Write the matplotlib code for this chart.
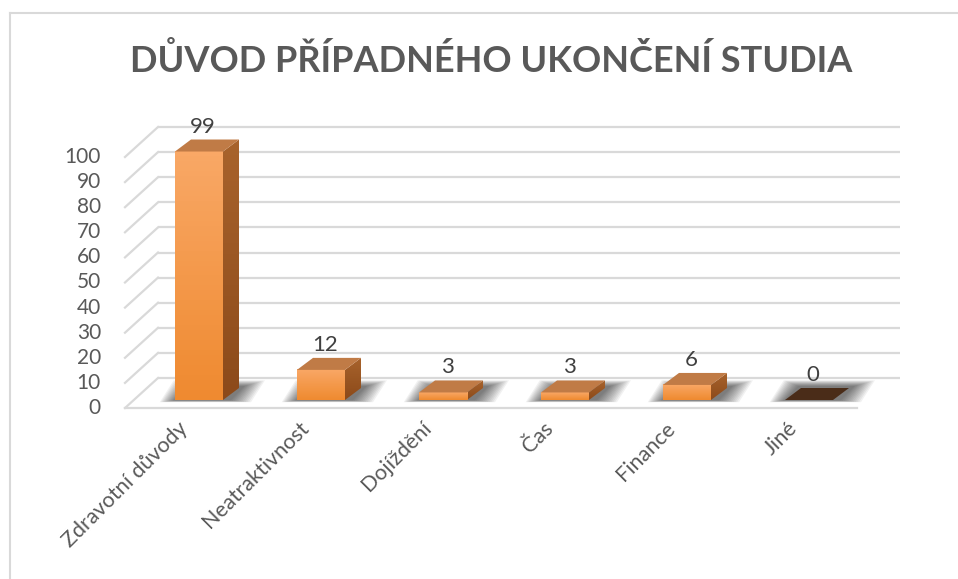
import numpy as np
import matplotlib
matplotlib.use("Agg")
import matplotlib.pyplot as plt
from matplotlib.patches import Polygon
from matplotlib.lines import Line2D
from matplotlib.colors import LinearSegmentedColormap

plt.rcParams['font.family'] = ['Lato', 'DejaVu Sans']

title = "DŮVOD PŘÍPADNÉHO UKONČENÍ STUDIA"
categories = ["Zdravotní důvody", "Neatraktivnost", "Dojíždění", "Čas", "Finance", "Jiné"]
values = [99, 12, 3, 3, 6, 0]
yticks = list(range(0, 101, 10))

# pixel layout -> data units (1 category = 122 px, 1 unit = 2.51 px)
PXC, PXV = 122.0, 2.51
X0, Y0 = 190.0, 408.0
def px(xp, yp):
    return (xp - X0) / PXC, (Y0 - yp) / PXV

W, H = 958, 579
fig = plt.figure(figsize=(W / 100, H / 100), dpi=100)
ax = fig.add_axes([0, 0, 1, 1])
x_lo, y_lo = px(0, H)
x_hi, y_hi = px(W, 0)
ax.set_xlim(x_lo, x_hi)
ax.set_ylim(y_lo, y_hi)
ax.axis('off')

# depth offsets
wall_dx, wall_dy = 33 / PXC, 30 / PXV
face_dx, face_dy = 9 / PXC, 8 / PXV
bar_dx, bar_dy = 16 / PXC, 12 / PXV
bar_w = 48 / PXC

grid_c = '#d9d9d9'
left_front = px(125, 0)[0]
right_back = px(900, 0)[0]
floor_right = px(857, 0)[0]
for t in yticks:
    ax.plot([left_front + wall_dx, right_back], [t + wall_dy, t + wall_dy],
            color=grid_c, lw=1.6, zorder=1, solid_capstyle='butt')
    ax.plot([left_front, left_front + wall_dx], [t, t + wall_dy],
            color=grid_c, lw=1.6, zorder=1)
ax.plot([left_front, floor_right], [0, 0], color=grid_c, lw=1.6, zorder=1)

for t in yticks:
    ax.text(px(101, 0)[0], t, str(t), ha='right', va='center',
            fontsize=15, color='#595959')

front_cmap = LinearSegmentedColormap.from_list('f', ['#f9a866', '#ef8a30'])
side_cmap = LinearSegmentedColormap.from_list('s', ['#a8632c', '#8c4a1a'])

for i, (cat, v) in enumerate(zip(categories, values)):
    xl = i - bar_w / 2 + face_dx
    xr = xl + bar_w
    yb = face_dy
    yt = yb + v
    # soft floor shadow
    for k in range(12):
        g = k * 1.3
        sx0 = xl - (1 + g) / PXC
        sx1 = xr + (8 + g * 1.4) / PXC
        sy0 = yb - (0.5 + g * 0.12) / PXV
        sy1 = yb + (14 + g * 0.4) / PXV
        sdx = 14 / PXC
        sh = Polygon([(sx0, sy0), (sx1, sy0), (sx1 + sdx, sy1), (sx0 + sdx, sy1)],
                     closed=True, facecolor='black', edgecolor='none',
                     alpha=0.055, zorder=2)
        ax.add_patch(sh)
    if v == 0:
        top = Polygon([(xl, yb), (xr, yb), (xr + bar_dx, yb + bar_dy), (xl + bar_dx, yb + bar_dy)],
                      closed=True, facecolor='#4a2c18', edgecolor='none', zorder=4)
        ax.add_patch(top)
    else:
        side = Polygon([(xr, yb), (xr + bar_dx, yb + bar_dy), (xr + bar_dx, yt + bar_dy), (xr, yt)],
                       closed=True, facecolor='none', edgecolor='none', zorder=3)
        ax.add_patch(side)
        im = ax.imshow(np.linspace(0, 1, 50)[:, None], cmap=side_cmap, aspect='auto',
                       extent=[xr, xr + bar_dx, yb, yt + bar_dy], origin='upper', zorder=3)
        im.set_clip_path(side)
        ax.imshow(np.linspace(0, 1, 50)[:, None], cmap=front_cmap, aspect='auto',
                  extent=[xl, xr, yb, yt], origin='upper', zorder=4)
        top = Polygon([(xl, yt), (xr, yt), (xr + bar_dx, yt + bar_dy), (xl + bar_dx, yt + bar_dy)],
                      closed=True, facecolor='#c07b46', edgecolor='none', zorder=4)
        ax.add_patch(top)
    ax.text(i + face_dx + 4 / PXC, yt + bar_dy + 3 / PXV, str(v), ha='center', va='bottom',
            fontsize=16, color='#404040', zorder=5)
    ax.text(i - 13 / PXC, px(0, 418)[1], cat, ha='right', va='top', rotation=45,
            rotation_mode='anchor', fontsize=15.5, color='#595959')

fig.text(491 / W, 1 - 60 / H, title, ha='center', va='center', fontsize=26,
         fontweight='bold', color='#595959')

fig.add_artist(Line2D([10 / W, 1], [1 - 13 / H, 1 - 13 / H], color='#d9d9d9', lw=1.5))
fig.add_artist(Line2D([10 / W, 10 / W], [0, 1 - 13 / H], color='#d9d9d9', lw=1.5))

fig.savefig('out.png', dpi=100)
